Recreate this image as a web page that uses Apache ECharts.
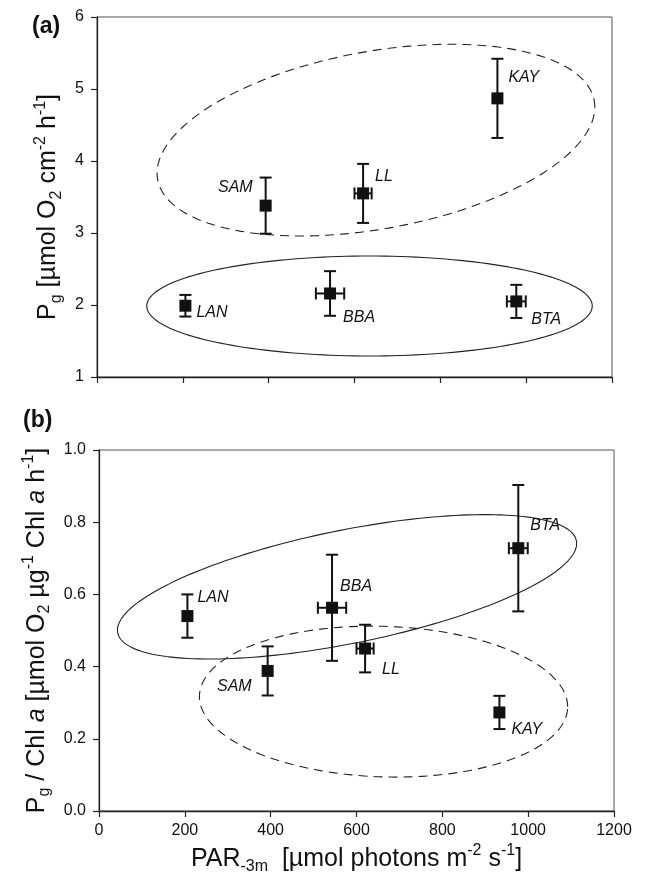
<!DOCTYPE html>
<html>
<head>
<meta charset="utf-8">
<script src="https://cdn.jsdelivr.net/npm/echarts@6/dist/echarts.min.js"></script>
<style>
  html, body { margin: 0; padding: 0; background: #fff; }
  #chart { width: 646px; height: 876px; }
</style>
</head>
<body>
<div id="chart"></div>
<script>
// sites and values
const sites = ['LAN', 'SAM', 'BBA', 'LL', 'KAY', 'BTA'];
const parX = [206, 393, 543, 620, 933, 977];        // PAR-3m
const parXErr = [0, 0, 33, 20, 0, 22];
const pgArea = [1.99, 3.38, 2.16, 3.55, 4.87, 2.05];  // panel (a)
const pgAreaErr = [0.15, 0.39, 0.31, 0.41, 0.55, 0.23];
const pgChl = [0.54, 0.388, 0.563, 0.45, 0.273, 0.728]; // panel (b)
const pgChlErr = [0.06, 0.068, 0.147, 0.066, 0.046, 0.175];

const xTicks = [0, 200, 400, 600, 800, 1000, 1200];
const yTicksA = [1, 2, 3, 4, 5, 6];
const yTicksB = [0, 0.2, 0.4, 0.6, 0.8, 1.0];

// grouping ellipses: centre x, centre y, x half-axis, y cos term, y sin term
const ellA_dash = [650, 4.29, 510, 0.458, 1.25];
const ellA_solid = [635, 1.986, 519, 0, 0.694];
const ellB_solid = [578, 0.621, 535, 0.120, 0.160];
const ellB_dash = [663, 0.303, 429, -0.014, 0.2086];

// label placement next to each point (pixels) — layout, not data
const labA = {
  LAN: ['left', 11, 7], SAM: ['right', -13, -18], BBA: ['left', 13, 24],
  LL: ['left', 12, -17], KAY: ['left', 11, -21], BTA: ['left', 15, 18]
};
const labB = {
  LAN: ['left', 10, -19], SAM: ['right', -16, 16], BBA: ['left', 8, -21],
  LL: ['left', 17, 21], KAY: ['left', 12, 17], BTA: ['left', 12, -23]
};

const FONT = '"Liberation Sans", Arial, sans-serif';
const INK = '#111';

function scatterData(yVals, labs) {
  return sites.map((s, i) => {
    const p = labs[s];
    return {
      value: [parX[i], yVals[i]],
      name: s,
      label: { align: p[0], offset: [p[1], p[2]] }
    };
  });
}

function errData(yVals, yErr) {
  return sites.map((s, i) => [parX[i], yVals[i], yErr[i], parXErr[i]]);
}

function errRender(params, api) {
  const x = api.value(0), y = api.value(1), ye = api.value(2), xe = api.value(3);
  const c = api.coord([x, y]);
  const t = api.coord([x, y + ye]);
  const b = api.coord([x, y - ye]);
  const st = { stroke: INK, lineWidth: 2 };
  const cap = 6;
  const kids = [
    { type: 'line', shape: { x1: c[0], y1: t[1], x2: c[0], y2: b[1] }, style: st },
    { type: 'line', shape: { x1: c[0] - cap, y1: t[1], x2: c[0] + cap, y2: t[1] }, style: st },
    { type: 'line', shape: { x1: c[0] - cap, y1: b[1], x2: c[0] + cap, y2: b[1] }, style: st }
  ];
  if (xe > 0) {
    const l = api.coord([x - xe, y]);
    const r = api.coord([x + xe, y]);
    kids.push(
      { type: 'line', shape: { x1: l[0], y1: c[1], x2: r[0], y2: c[1] }, style: st },
      { type: 'line', shape: { x1: l[0], y1: c[1] - cap, x2: l[0], y2: c[1] + cap }, style: st },
      { type: 'line', shape: { x1: r[0], y1: c[1] - cap, x2: r[0], y2: c[1] + cap }, style: st }
    );
  }
  return { type: 'group', children: kids };
}

function ellipseSeries(e, idx, dashed) {
  return {
    type: 'custom',
    xAxisIndex: idx, yAxisIndex: idx,
    silent: true,
    data: [e],
    renderItem(params, api) {
      const pts = [];
      for (let k = 0; k <= 180; k++) {
        const a = (k / 180) * Math.PI * 2;
        const px = e[0] + e[2] * Math.cos(a);
        const py = e[1] + e[3] * Math.cos(a) + e[4] * Math.sin(a);
        pts.push(api.coord([px, py]));
      }
      return {
        type: 'polyline',
        shape: { points: pts },
        style: { stroke: '#222', lineWidth: 1.1, fill: null, lineDash: dashed ? [9, 6] : null }
      };
    },
    z: 1
  };
}

const richName = {
  base: { fontSize: 25, fontFamily: FONT, color: INK, lineHeight: 32 },
  sub: { fontSize: 16, fontFamily: FONT, color: INK, verticalAlign: 'bottom', lineHeight: 17 },
  sup: { fontSize: 16, fontFamily: FONT, color: INK, verticalAlign: 'top', lineHeight: 17 },
  it: { fontSize: 25, fontFamily: FONT, color: INK, fontStyle: 'italic', lineHeight: 32 }
};

const axisCommon = {
  axisLine: { show: true, lineStyle: { color: '#222', width: 1.3 } },
  axisTick: { show: true, inside: false, length: 6, lineStyle: { color: '#222', width: 1.2 } },
  splitLine: { show: false }
};

const tickFont = { show: true, fontSize: 16, fontFamily: FONT, color: INK };

const labelCommon = {
  show: true,
  position: 'inside',
  formatter: '{b}',
  color: INK,
  fontFamily: FONT,
  fontStyle: 'italic',
  fontSize: 16,
  verticalAlign: 'middle'
};

const option = {
  animation: false,
  backgroundColor: '#fff',
  grid: [
    { left: 97, top: 17, width: 515, height: 360, show: true, borderColor: '#555', borderWidth: 1 },
    { left: 99, top: 450, width: 515, height: 362, show: true, borderColor: '#555', borderWidth: 1 }
  ],
  xAxis: [
    Object.assign({}, axisCommon, {
      gridIndex: 0, type: 'value', min: xTicks[0], max: xTicks[xTicks.length - 1], interval: 200,
      axisLabel: { show: false }
    }),
    Object.assign({}, axisCommon, {
      gridIndex: 1, type: 'value', min: xTicks[0], max: xTicks[xTicks.length - 1], interval: 200,
      axisLabel: Object.assign({}, tickFont, { margin: 12, formatter: v => String(v) }),
      name: '{base|PAR}{sub|-3m}{base|  [µmol photons m}{sup|-2}{base| s}{sup|-1}{base|]}',
      nameLocation: 'middle',
      nameGap: 32,
      nameTextStyle: { rich: richName }
    })
  ],
  yAxis: [
    Object.assign({}, axisCommon, {
      gridIndex: 0, type: 'value', min: yTicksA[0], max: yTicksA[yTicksA.length - 1], interval: 1,
      axisLabel: Object.assign({}, tickFont, { margin: 13 }),
      name: '{base|P}{sub|g}{base| [µmol O}{sub|2}{base| cm}{sup|-2}{base| h}{sup|-1}{base|]}',
      nameLocation: 'middle',
      nameRotate: 90,
      nameGap: 32,
      nameTextStyle: { rich: richName, padding: [0, 20, 0, 0] }
    }),
    Object.assign({}, axisCommon, {
      gridIndex: 1, type: 'value', min: yTicksB[0], max: yTicksB[yTicksB.length - 1], interval: 0.2,
      axisLabel: Object.assign({}, tickFont, { margin: 13, formatter: v => v.toFixed(1) }),
      name: '{base|P}{sub|g}{base| / Chl }{it|a}{base| [µmol O}{sub|2}{base| µg}{sup|-1}{base| Chl }{it|a}{base| h}{sup|-1}{base|]}',
      nameLocation: 'middle',
      nameRotate: 90,
      nameGap: 36,
      nameTextStyle: { rich: richName }
    })
  ],
  graphic: [
    { type: 'text', left: 32, top: 15, style: { text: '(a)', font: 'bold 23px ' + FONT, fill: INK } },
    { type: 'text', left: 23, top: 409, style: { text: '(b)', font: 'bold 23px ' + FONT, fill: INK } }
  ],
  series: [
    ellipseSeries(ellA_dash, 0, true),
    ellipseSeries(ellA_solid, 0, false),
    ellipseSeries(ellB_solid, 1, false),
    ellipseSeries(ellB_dash, 1, true),
    {
      type: 'custom', xAxisIndex: 0, yAxisIndex: 0, silent: true, z: 2,
      data: errData(pgArea, pgAreaErr), renderItem: errRender
    },
    {
      type: 'custom', xAxisIndex: 1, yAxisIndex: 1, silent: true, z: 2,
      data: errData(pgChl, pgChlErr), renderItem: errRender
    },
    {
      type: 'scatter', xAxisIndex: 0, yAxisIndex: 0, z: 3,
      symbol: 'rect', symbolSize: 12, itemStyle: { color: INK, opacity: 1 },
      label: labelCommon,
      data: scatterData(pgArea, labA)
    },
    {
      type: 'scatter', xAxisIndex: 1, yAxisIndex: 1, z: 3,
      symbol: 'rect', symbolSize: 12, itemStyle: { color: INK, opacity: 1 },
      label: labelCommon,
      data: scatterData(pgChl, labB)
    }
  ]
};

const chart = echarts.init(document.getElementById('chart'), null, { renderer: 'canvas' });
chart.setOption(option);
</script>
</body>
</html>
